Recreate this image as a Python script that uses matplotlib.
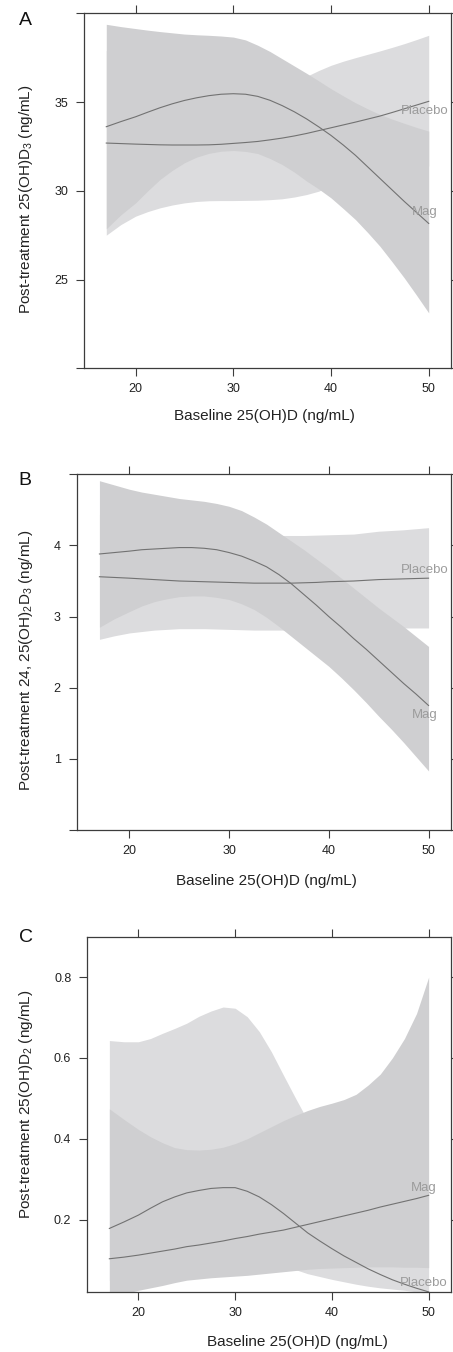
import numpy as np
import matplotlib.pyplot as plt

plt.rcParams['font.family'] = 'Liberation Sans'
plt.rcParams['mathtext.fontset'] = 'custom'
plt.rcParams['mathtext.rm'] = 'Liberation Sans'
plt.rcParams['mathtext.it'] = 'Liberation Sans:italic'
plt.rcParams['font.size'] = 9

# baseline 25(OH)D grid (ng/mL)
baseline = [17, 18.5, 20, 21.25, 22.5, 23.75, 25, 26.25, 27.5, 28.75, 30, 31.25, 32.5, 33.75,
            35, 36.25, 37.5, 38.75, 40, 41.25, 42.5, 43.75, 45, 46.25, 47.5, 48.75, 50]

# panel A: post-treatment 25(OH)D3
a_mag = [33.61, 33.9, 34.17, 34.43, 34.68, 34.9, 35.09, 35.24, 35.36, 35.44, 35.47, 35.44, 35.32, 35.1,
         34.8, 34.45, 34.05, 33.6, 33.12, 32.58, 32.0, 31.35, 30.7, 30.05, 29.4, 28.78, 28.16]
a_mag_hi = [39.38, 39.25, 39.14, 39.05, 38.97, 38.9, 38.83, 38.79, 38.76, 38.72, 38.66, 38.5, 38.2, 37.85,
            37.44, 37.03, 36.62, 36.19, 35.75, 35.35, 34.96, 34.62, 34.3, 34.04, 33.8, 33.57, 33.36]
a_mag_lo = [27.86, 28.65, 29.32, 30.0, 30.64, 31.15, 31.58, 31.9, 32.11, 32.23, 32.27, 32.22, 32.1, 31.82,
            31.48, 31.05, 30.55, 30.1, 29.6, 29.0, 28.38, 27.65, 26.88, 26.0, 25.09, 24.12, 23.12]
a_pla = [32.69, 32.66, 32.63, 32.61, 32.59, 32.58, 32.58, 32.58, 32.59, 32.62, 32.67, 32.72, 32.78, 32.87,
         32.97, 33.09, 33.23, 33.39, 33.55, 33.71, 33.87, 34.04, 34.21, 34.41, 34.62, 34.83, 35.04]
a_pla_hi = [37.9, 37.6, 37.3, 37.1, 36.9, 36.75, 36.6, 36.45, 36.3, 36.2, 36.1, 36.05, 36.0, 36.03,
            36.1, 36.26, 36.45, 36.78, 37.07, 37.3, 37.5, 37.69, 37.88, 38.08, 38.29, 38.52, 38.76]
a_pla_lo = [27.5, 28.1, 28.57, 28.83, 29.04, 29.2, 29.32, 29.4, 29.44, 29.45, 29.45, 29.46, 29.47, 29.5,
            29.55, 29.65, 29.79, 29.98, 30.3, 30.6, 30.9, 31.05, 31.2, 31.3, 31.35, 31.38, 31.4]

# panel B: post-treatment 24,25(OH)2D3
b_mag = [3.88, 3.90, 3.92, 3.94, 3.95, 3.96, 3.97, 3.97, 3.96, 3.94, 3.90, 3.85, 3.78, 3.70,
         3.59, 3.46, 3.31, 3.16, 3.00, 2.85, 2.69, 2.54, 2.38, 2.22, 2.06, 1.91, 1.75]
b_mag_hi = [4.91, 4.85, 4.79, 4.75, 4.72, 4.69, 4.66, 4.64, 4.62, 4.59, 4.55, 4.49, 4.40, 4.30,
            4.18, 4.06, 3.94, 3.81, 3.68, 3.54, 3.40, 3.26, 3.12, 2.99, 2.86, 2.72, 2.58]
b_mag_lo = [2.85, 2.97, 3.07, 3.15, 3.21, 3.25, 3.28, 3.29, 3.29, 3.27, 3.24, 3.18, 3.10, 2.99,
            2.86, 2.72, 2.58, 2.44, 2.30, 2.14, 1.97, 1.79, 1.60, 1.42, 1.23, 1.03, 0.83]
b_pla = [3.56, 3.55, 3.54, 3.53, 3.52, 3.51, 3.50, 3.495, 3.49, 3.485, 3.48, 3.475, 3.47, 3.47,
         3.47, 3.47, 3.475, 3.48, 3.49, 3.495, 3.50, 3.51, 3.52, 3.525, 3.53, 3.535, 3.54]
b_pla_hi = [4.44, 4.38, 4.33, 4.29, 4.26, 4.23, 4.20, 4.18, 4.17, 4.16, 4.15, 4.14, 4.14, 4.14,
            4.14, 4.14, 4.14, 4.145, 4.15, 4.155, 4.16, 4.18, 4.20, 4.21, 4.22, 4.235, 4.25]
b_pla_lo = [2.68, 2.73, 2.77, 2.79, 2.81, 2.82, 2.83, 2.83, 2.83, 2.825, 2.82, 2.815, 2.81, 2.81,
            2.81, 2.81, 2.81, 2.815, 2.82, 2.825, 2.83, 2.83, 2.83, 2.835, 2.84, 2.84, 2.84]

# panel C: post-treatment 25(OH)D2
c_mag = [0.178, 0.194, 0.211, 0.228, 0.244, 0.256, 0.266, 0.272, 0.277, 0.279, 0.279, 0.27, 0.256, 0.237,
         0.215, 0.191, 0.167, 0.147, 0.128, 0.11, 0.094, 0.078, 0.064, 0.051, 0.040, 0.03, 0.021]
c_mag_hi = [0.643, 0.640, 0.640, 0.648, 0.661, 0.673, 0.686, 0.703, 0.716, 0.726, 0.723, 0.702, 0.665, 0.615,
            0.557, 0.50, 0.445, 0.42, 0.40, 0.38, 0.36, 0.345, 0.33, 0.315, 0.30, 0.29, 0.28]
c_mag_lo = [0.05, 0.06, 0.07, 0.078, 0.085, 0.093, 0.10, 0.103, 0.105, 0.106, 0.105, 0.102, 0.098, 0.092,
            0.085, 0.076, 0.066, 0.059, 0.052, 0.046, 0.04, 0.035, 0.031, 0.028, 0.025, 0.021, 0.018]
c_pla = [0.103, 0.107, 0.112, 0.117, 0.122, 0.127, 0.133, 0.137, 0.142, 0.147, 0.153, 0.158, 0.164, 0.169,
         0.174, 0.181, 0.188, 0.195, 0.202, 0.209, 0.216, 0.223, 0.231, 0.238, 0.245, 0.252, 0.260]
c_pla_hi = [0.474, 0.448, 0.423, 0.405, 0.39, 0.378, 0.373, 0.372, 0.374, 0.379, 0.388, 0.40, 0.415, 0.43,
            0.445, 0.458, 0.47, 0.48, 0.488, 0.497, 0.51, 0.533, 0.56, 0.60, 0.648, 0.71, 0.80]
c_pla_lo = [0.005, 0.016, 0.025, 0.031, 0.037, 0.044, 0.05, 0.053, 0.056, 0.058, 0.06, 0.062, 0.065, 0.068,
            0.071, 0.074, 0.077, 0.079, 0.08, 0.081, 0.082, 0.083, 0.083, 0.083, 0.082, 0.082, 0.081]

light = '#dcdcde'
dark = '#cfcfd1'
line_col = '#727272'
text_col = '#9c9c9c'
spine_col = '#3c3c3c'

W, H = 453, 1352
fig = plt.figure(figsize=(W / 100, H / 100), dpi=100)


def add_panel(left, right, top, bottom):
    return fig.add_axes([left / W, 1 - bottom / H, (right - left) / W, (bottom - top) / H])


def style(ax, ylim, yticks, ylabels, ylabel, ylab_xy, xlab_xy, letter):
    ax.set_xlim(14.72, 52.28)
    ax.set_ylim(*ylim)
    ax.set_xticks([20, 30, 40, 50])
    ax.set_yticks(yticks)
    ax.set_yticklabels(ylabels)
    for s in ax.spines.values():
        s.set_color(spine_col)
        s.set_linewidth(0.9)
    ax.tick_params(direction='out', length=5.5, width=0.8, color=spine_col,
                   labelcolor='#222222', top=True, right=True, labeltop=False,
                   labelright=False, labelsize=9)
    ax.tick_params(axis='x', pad=5)
    ax.tick_params(axis='y', pad=6)
    ax.set_xlabel('Baseline 25(OH)D (ng/mL)', fontsize=11, color='#222222')
    ax.set_ylabel(ylabel, fontsize=11, color='#222222')
    ax.xaxis.set_label_coords(*xlab_xy)
    ax.yaxis.set_label_coords(*ylab_xy)
    ax.text(letter[1], letter[2], letter[0], transform=fig.transFigure,
            fontsize=14, ha='center', va='center', color='#111111')


def draw(ax, lo_band, hi_band, lines):
    ax.fill_between(baseline, lo_band[0], lo_band[1], color=light, lw=0)
    ax.fill_between(baseline, hi_band[0], hi_band[1], color=dark, lw=0)
    for y in lines:
        ax.plot(baseline, y, color=line_col, lw=0.8)


# A
ax = add_panel(84, 451, 13.3, 368.3)
draw(ax, (a_pla_lo, a_pla_hi), (a_mag_lo, a_mag_hi), [a_mag, a_pla])
ax.text(49.6, 34.49, 'Placebo', color=text_col, fontsize=9.5, ha='center', va='center')
ax.text(49.6, 28.78, 'Mag', color=text_col, fontsize=9.5, ha='center', va='center')
style(ax, (20, 40), [20, 25, 30, 35, 40], ['', '25', '30', '35', ''],
      'Post-treatment 25(OH)D$_3$ (ng/mL)', (-0.134, 0.477), (0.491, -0.116),
      ('A', 25.5 / W, 1 - 20.8 / H))

# B
ax = add_panel(76.7, 451.3, 474.3, 830)
draw(ax, (b_pla_lo, b_pla_hi), (b_mag_lo, b_mag_hi), [b_mag, b_pla])
ax.text(49.6, 3.65, 'Placebo', color=text_col, fontsize=9.5, ha='center', va='center')
ax.text(49.6, 1.62, 'Mag', color=text_col, fontsize=9.5, ha='center', va='center')
style(ax, (0, 5), [0, 1, 2, 3, 4, 5], ['', '1', '2', '3', '4', ''],
      'Post-treatment 24, 25(OH)$_2$D$_3$ (ng/mL)', (-0.111, 0.478), (0.507, -0.123),
      ('B', 25 / W, 1 - 480.8 / H))

# C
ax = add_panel(87.3, 450.7, 936.7, 1292.3)
draw(ax, (c_mag_lo, c_mag_hi), (c_pla_lo, c_pla_hi), [c_mag, c_pla])
ax.text(49.5, 0.277, 'Mag', color=text_col, fontsize=9.5, ha='center', va='center')
ax.text(49.5, 0.044, 'Placebo', color=text_col, fontsize=9.5, ha='center', va='center')
style(ax, (0.02, 0.9), [0.2, 0.4, 0.6, 0.8], ['0.2', '0.4', '0.6', '0.8'],
      'Post-treatment 25(OH)D$_2$ (ng/mL)', (-0.143, 0.53), (0.578, -0.119),
      ('C', 26 / W, 1 - 938 / H))

plt.savefig('out.png', dpi=100)
